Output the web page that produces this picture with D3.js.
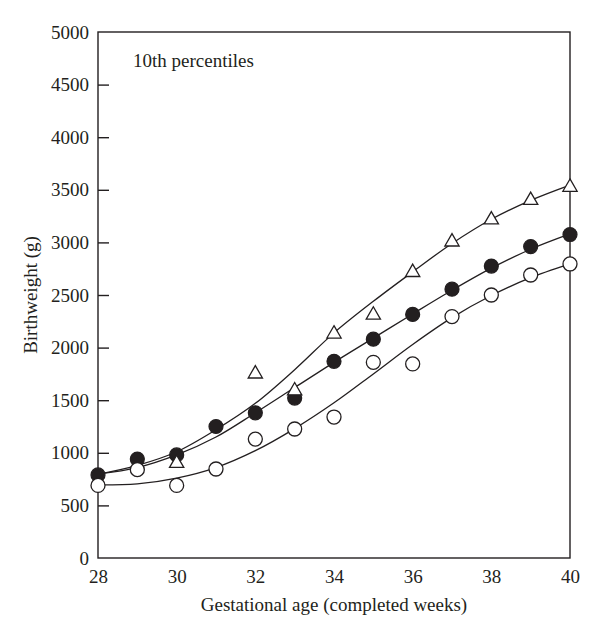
<!DOCTYPE html>
<html><head><meta charset="utf-8">
<script src="https://cdn.jsdelivr.net/npm/d3@7"></script>
<style>body{margin:0;background:#fff}svg{display:block}text{font-family:"Liberation Serif","DejaVu Serif",serif;fill:#231f20}</style>
</head><body><svg id="c" width="600" height="638"></svg>
<script>
const weeks = [28,29,30,31,32,33,34,35,36,37,38,39,40];
// observed 10th percentile points
const filledPts = [790,940,980,1250,1380,1520,1870,2080,2315,2555,2775,2960,3075];
const openPts   = [690,840,690,846,1130,1226,1340,1860,1845,2295,2500,2690,2795];
const triPts    = [null,null,900,null,1750,1590,2130,2310,2715,3005,3215,3400,3525];
// smoothed curves
const triCurve    = [795,880,1010,1220,1470,1790,2140,2440,2720,2990,3220,3400,3545];
const filledCurve = [800,860,980,1150,1380,1620,1860,2090,2320,2545,2755,2935,3080];
const openCurve   = [695,705,760,860,1020,1230,1475,1750,2030,2285,2495,2665,2795];
const yTicks = [0,500,1000,1500,2000,2500,3000,3500,4000,4500,5000];
const xTicks = [28,30,32,34,36,38,40];

const svg = d3.select("#c");
const L=98,R=570,T=32,B=558;
const x = d3.scaleLinear().domain([28,40]).range([L,R]);
const y = d3.scaleLinear().domain([0,5000]).range([B,T]);
const ink="#231f20";
const fs=19;

// frame
svg.append("rect").attr("x",L).attr("y",T).attr("width",R-L).attr("height",B-T)
  .attr("fill","none").attr("stroke",ink).attr("stroke-width",1.4);

// y axis
const ya = svg.append("g").attr("transform",`translate(${L},0)`)
  .call(d3.axisLeft(y).tickValues(yTicks).tickSize(-11).tickPadding(9).tickFormat(d3.format("d")));
ya.select(".domain").remove();
ya.selectAll("line").attr("stroke",ink).attr("stroke-width",1.4);
ya.selectAll("text").attr("font-size",fs).attr("fill",ink)
  .attr("font-family","Liberation Serif, serif");
ya.selectAll(".tick").filter(d=>d===0||d===5000).select("line").remove();

// x axis
const xa = svg.append("g").attr("transform",`translate(0,${B})`)
  .call(d3.axisBottom(x).tickValues(xTicks).tickSize(0).tickPadding(12).tickFormat(d3.format("d")));
xa.select(".domain").remove();
xa.selectAll("text").attr("font-size",fs).attr("fill",ink)
  .attr("font-family","Liberation Serif, serif");

// titles
svg.append("text").attr("x",334).attr("y",611).attr("text-anchor","middle")
  .attr("font-size",fs).text("Gestational age (completed weeks)");
svg.append("text").attr("transform","translate(37,295) rotate(-90)").attr("text-anchor","middle")
  .attr("font-size",fs).text("Birthweight (g)");
svg.append("text").attr("x",133).attr("y",67).attr("font-size",fs).text("10th percentiles");

// curves
const line = d3.line().x((d,i)=>x(weeks[i])).y(d=>y(d)).curve(d3.curveCatmullRom.alpha(0.5));
[triCurve,filledCurve,openCurve].forEach(c=>{
  svg.append("path").attr("d",line(c)).attr("fill","none").attr("stroke",ink).attr("stroke-width",1.3);
});

// markers
const r=7;
svg.append("g").selectAll("circle").data(filledPts).join("circle")
  .attr("cx",(d,i)=>x(weeks[i])).attr("cy",d=>y(d)).attr("r",r)
  .attr("fill",ink).attr("stroke",ink).attr("stroke-width",1.2);
svg.append("g").selectAll("circle").data(openPts).join("circle")
  .attr("cx",(d,i)=>x(weeks[i])).attr("cy",d=>y(d)).attr("r",r)
  .attr("fill","#fff").attr("stroke",ink).attr("stroke-width",1.3);
const tri = d3.symbol().type(d3.symbolTriangle).size(88);
svg.append("g").selectAll("path").data(triPts.map((v,i)=>({w:weeks[i],v})).filter(d=>d.v!==null)).join("path")
  .attr("d",tri).attr("transform",d=>`translate(${x(d.w)},${y(d.v)})`)
  .attr("fill","#fff").attr("stroke",ink).attr("stroke-width",1.3);
</script></body></html>
